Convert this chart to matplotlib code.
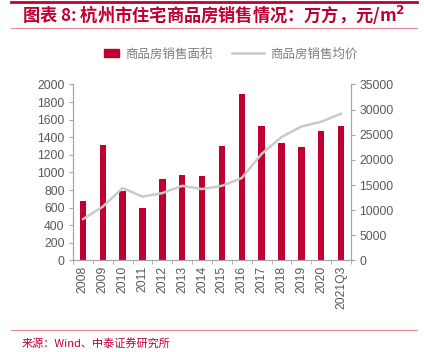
import matplotlib.pyplot as plt
import numpy as np
from matplotlib.patches import Patch
from matplotlib.lines import Line2D

plt.rcParams['font.family'] = ['Liberation Sans', 'Noto Sans CJK SC', 'DejaVu Sans']

# categories
years = ['2008', '2009', '2010', '2011', '2012', '2013', '2014',
         '2015', '2016', '2017', '2018', '2019', '2020', '2021Q3']
# 商品房销售面积 (万方)
area = [678, 1316, 792, 602, 929, 971, 955, 1297, 1897, 1525, 1335, 1290, 1476, 1533]
# 商品房销售均价 (元/m2)
price = [8200, 10700, 14400, 12700, 13400, 14850, 14200, 14850, 16400, 21200,
         24550, 26650, 27600, 29200]

red = '#C00032'
gray_line = '#CACACA'
txt_gray = '#595959'
spine_gray = '#A6A6A6'

fig = plt.figure(figsize=(4.24, 3.52), dpi=100)
ax = fig.add_axes([0.172, 0.26, 0.656, 0.5])
ax2 = ax.twinx()

x = np.arange(len(years))
ax.bar(x, area, width=0.32, color=red, zorder=2)
ax2.plot(x, price, color=gray_line, linewidth=1.8, solid_capstyle='round')

ax.set_xlim(-0.5, len(years) - 0.5)
ax.set_ylim(0, 2000)
ax.set_yticks(range(0, 2001, 200))
ax2.set_ylim(0, 35000)
ax2.set_yticks(range(0, 35001, 5000))

ax.set_xticks(x)
ax.set_xticklabels(years, rotation=90)
ax.set_xticks(np.arange(-0.5, len(years), 1), minor=True)
ax.tick_params(axis='x', which='major', length=0, pad=4)
ax.tick_params(axis='x', which='minor', length=3, color=spine_gray)

for a in (ax, ax2):
    a.tick_params(axis='y', length=3, color=spine_gray, labelcolor=txt_gray, labelsize=8.7, pad=3)
    a.tick_params(axis='x', labelcolor=txt_gray, labelsize=8.7)
    a.spines['top'].set_visible(False)
    for s in ('left', 'right', 'bottom'):
        a.spines[s].set_color(spine_gray)
        a.spines[s].set_linewidth(0.8)

ax.patch.set_visible(False)
ax2.patch.set_visible(False)
ax.set_zorder(1)
ax2.set_zorder(2)

leg_font = {'family': ['Noto Sans CJK SC'], 'size': 9}
leg1 = fig.legend([Patch(color=red)], ['商品房销售面积'], loc='center left',
                  bbox_to_anchor=(93 / 424, 1 - 54 / 352), frameon=False,
                  labelcolor='#7F7F7F', handlelength=1.2, handleheight=0.6,
                  handletextpad=0.5, prop=leg_font)
leg2 = fig.legend([Line2D([0], [0], color=gray_line, linewidth=1.8)], ['商品房销售均价'],
                  loc='center left', bbox_to_anchor=(221 / 424, 1 - 54 / 352),
                  frameon=False, labelcolor='#7F7F7F', handlelength=2.5,
                  handletextpad=0.5, prop=leg_font)

# header / footer lines
fig.add_artist(Line2D([11 / 424, 417 / 424], [1 - 2 / 352, 1 - 2 / 352],
                      color=red, linewidth=2))
fig.add_artist(Line2D([11 / 424, 417 / 424], [1 - 28 / 352, 1 - 28 / 352],
                      color='#E8888F', linewidth=0.8))
fig.add_artist(Line2D([11 / 424, 417 / 424], [1 - 330 / 352, 1 - 330 / 352],
                      color='#E8888F', linewidth=0.8))

fig.text(22 / 424, 1 - 15 / 352, '图表 8: 杭州市住宅商品房销售情况：万方，元/m$^\\mathbf{2}$',
         color=red, fontsize=12.4, fontweight='bold', va='center', ha='left',
         family=['Noto Sans CJK SC', 'DejaVu Sans'], style='italic')
fig.text(22 / 424, 1 - 343 / 352, '来源：Wind、中泰证券研究所', color=red,
         fontsize=8, va='center', ha='left', family=['Noto Sans CJK SC', 'DejaVu Sans'])

fig.savefig('out.png', dpi=100)
